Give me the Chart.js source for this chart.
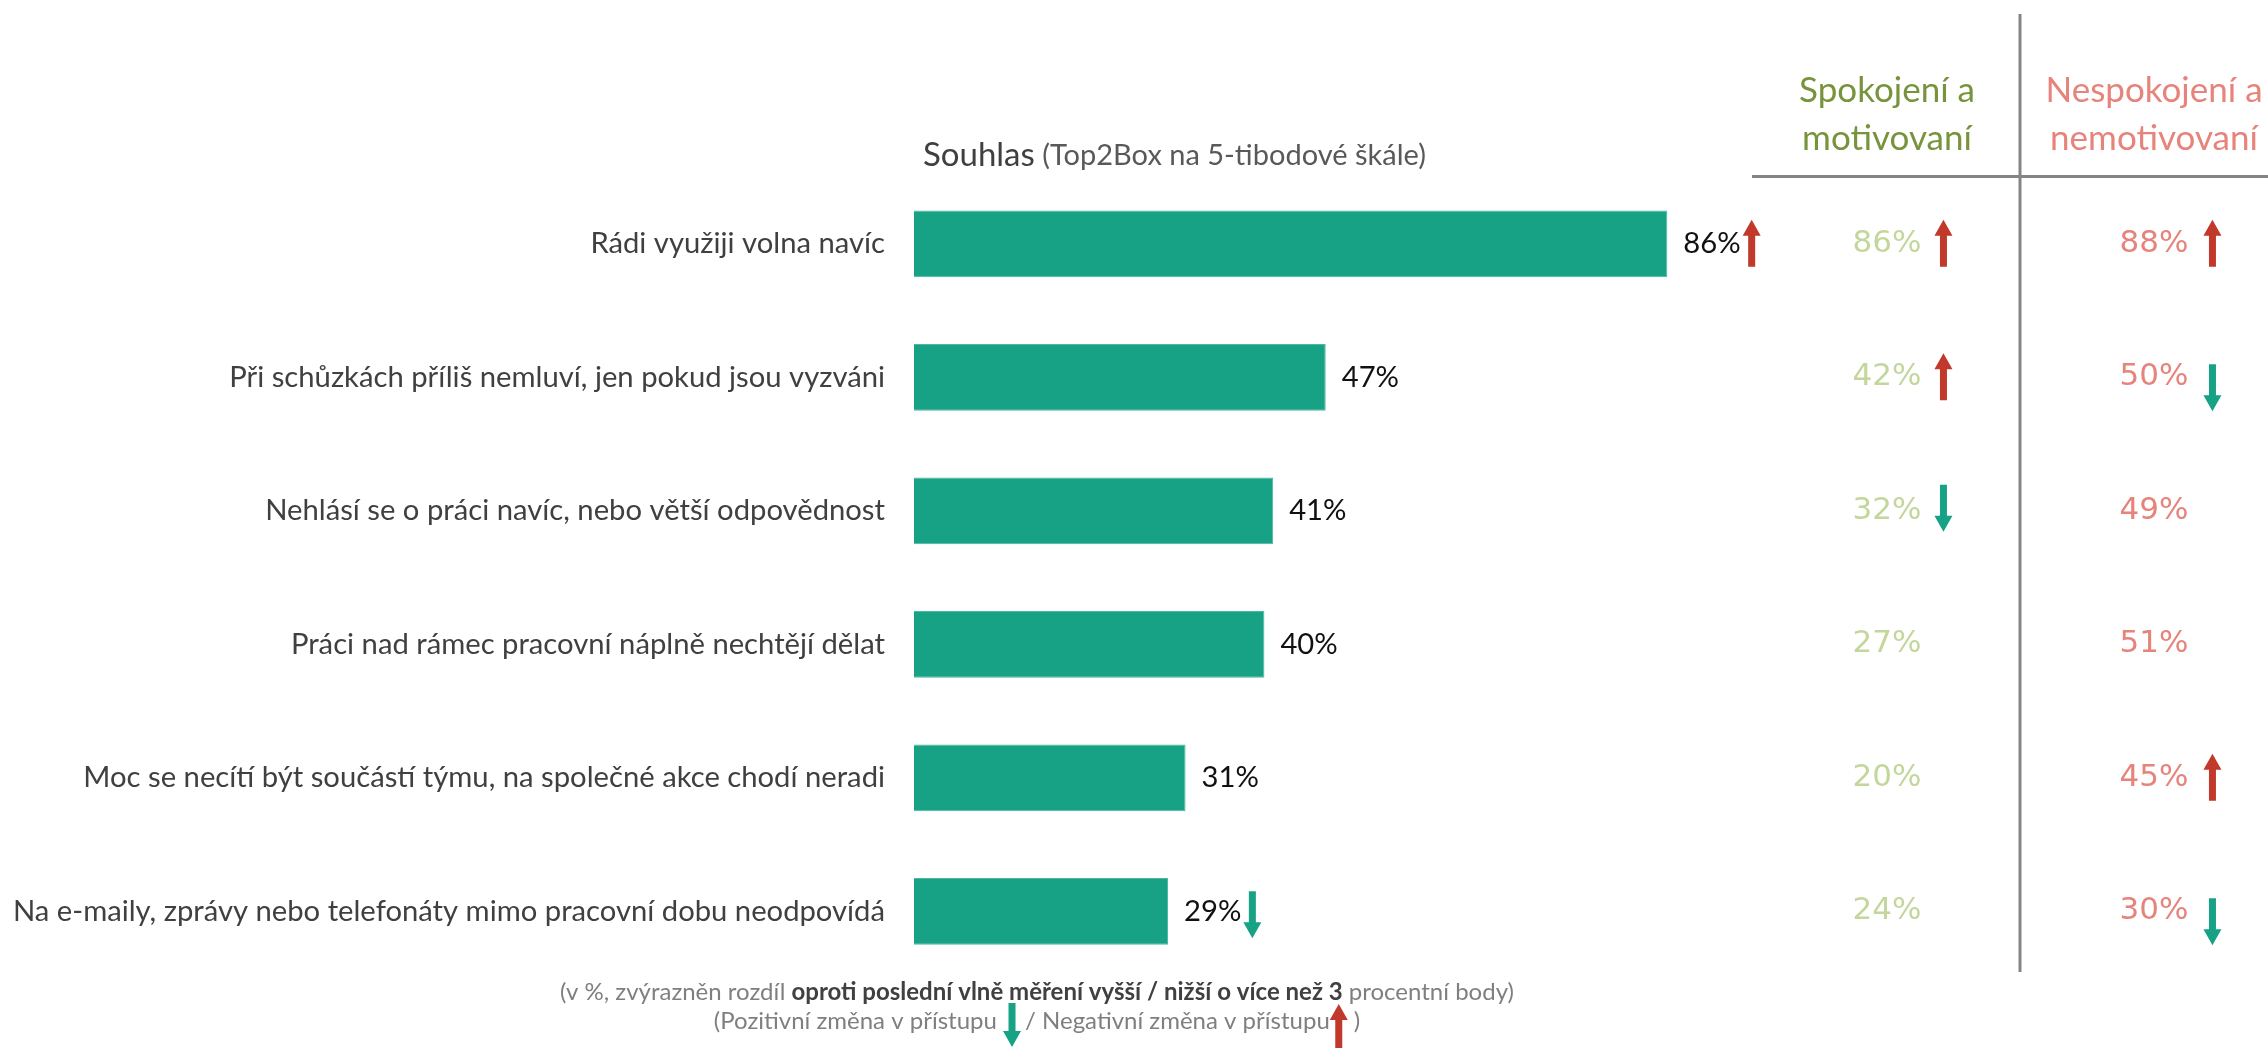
<!DOCTYPE html>
<html><head><meta charset="utf-8">
<script src="https://cdn.jsdelivr.net/npm/chart.js@4.4.1/dist/chart.umd.min.js"></script>
<style>html,body{margin:0;padding:0;background:#fff;overflow:hidden}canvas{display:block}</style>
</head><body>
<canvas id="c" width="2268" height="1048"></canvas>
<script>
// ---- data ----
const categories = [
  "Rádi využiji volna navíc",
  "Při schůzkách příliš nemluví, jen pokud jsou vyzváni",
  "Nehlásí se o práci navíc, nebo větší odpovědnost",
  "Práci nad rámec pracovní náplně nechtějí dělat",
  "Moc se necítí být součástí týmu, na společné akce chodí neradi",
  "Na e-maily, zprávy nebo telefonáty mimo pracovní dobu neodpovídá"
];
const totalValues = [86, 47, 41, 40, 31, 29];
const totalChange = ["up", null, null, null, null, "down"];
const satisfiedValues = [86, 42, 32, 27, 20, 24];
const satisfiedChange = ["up", "up", "down", null, null, null];
const dissatisfiedValues = [88, 50, 49, 51, 45, 30];
const dissatisfiedChange = ["up", "down", null, null, "up", "down"];
const axisMin = 0;
const axisMax = 100;
const chartTitle = "Souhlas";
const chartSubtitle = " (Top2Box na 5-tibodové škále)";
const satisfiedHeader = ["Spokojení a", "motivovaní"];
const dissatisfiedHeader = ["Nespokojení a", "nemotivovaní"];
const footerLine1 = [
  ["(v %, zvýrazněn rozdíl ", false],
  ["oproti poslední vlně měření vyšší / nižší o více než 3", true],
  [" procentní body)", false]
];
const footerLine2 = ["(Pozitivní změna v přístupu ", "/ Negativní změna v přístupu", ")"];

// ---- styles ----
const TEAL = "#17A185";
const RED = "#C0392B";
const GREEN_H = "#77933C";
const GREEN_V = "#C3D69B";
const SALMON = "#E6837B";
const GRAY_LINE = "#858585";
const FONT = "Lato, 'Open Sans', sans-serif";
const NUMFONT = "'DejaVu Sans', Verdana, sans-serif";

function drawArrow(ctx, cx, top, bottom, dir, color) {
  const shaft = 7, head = 18, headLen = 16;
  ctx.save();
  ctx.fillStyle = color;
  ctx.beginPath();
  if (dir === "up") {
    ctx.moveTo(cx, top);
    ctx.lineTo(cx + head / 2, top + headLen);
    ctx.lineTo(cx + shaft / 2, top + headLen);
    ctx.lineTo(cx + shaft / 2, bottom);
    ctx.lineTo(cx - shaft / 2, bottom);
    ctx.lineTo(cx - shaft / 2, top + headLen);
    ctx.lineTo(cx - head / 2, top + headLen);
  } else {
    ctx.moveTo(cx, bottom);
    ctx.lineTo(cx + head / 2, bottom - headLen);
    ctx.lineTo(cx + shaft / 2, bottom - headLen);
    ctx.lineTo(cx + shaft / 2, top);
    ctx.lineTo(cx - shaft / 2, top);
    ctx.lineTo(cx - shaft / 2, bottom - headLen);
    ctx.lineTo(cx - head / 2, bottom - headLen);
  }
  ctx.closePath();
  ctx.fill();
  ctx.restore();
}
function arrowFor(ctx, dir, cx, cy, downOff) {
  if (!dir) return;
  if (dir === "up") drawArrow(ctx, cx, cy - 24, cy + 23, "up", RED);
  else drawArrow(ctx, cx, cy + downOff, cy + downOff + 47, "down", TEAL);
}

const annotations = {
  id: "annotations",
  afterDatasetsDraw(chart) {
    const ctx = chart.ctx;
    const x = chart.scales.x, y = chart.scales.y;
    ctx.save();
    ctx.textBaseline = "middle";

    // category labels (fit longest label to the available width)
    ctx.font = "28px " + FONT;
    let longest = 0;
    categories.forEach(c => longest = Math.max(longest, ctx.measureText(c).width));
    const labelSize = Math.min(30, 28 * 872 / longest);
    ctx.font = labelSize.toFixed(2) + "px " + FONT;
    ctx.fillStyle = "#404040";
    ctx.textAlign = "right";
    const labelRight = x.left - 29;
    categories.forEach((c, i) => ctx.fillText(c, labelRight, y.getPixelForValue(i)));

    // bar value labels
    ctx.textAlign = "left";
    ctx.font = labelSize.toFixed(2) + "px " + FONT;
    ctx.fillStyle = "#111";
    totalValues.forEach((v, i) => {
      const px = x.getPixelForValue(v) + 16;
      const cy = y.getPixelForValue(i);
      const t = v + "%";
      ctx.fillText(t, px, cy);
      const w = ctx.measureText(t).width;
      arrowFor(ctx, totalChange[i], px + w + 11, cy, -20);
    });

    // title
    ctx.font = "33px " + FONT;
    ctx.fillStyle = "#404040";
    ctx.fillText(chartTitle, 923, 155);
    const tw = ctx.measureText(chartTitle).width;
    ctx.font = "29px " + FONT;
    ctx.fillStyle = "#595959";
    ctx.fillText(chartSubtitle, 923 + tw, 156);

    // side columns
    const col1 = 1887, col2 = 2154;
    ctx.textAlign = "center";
    ctx.font = "35px " + FONT;
    ctx.fillStyle = GREEN_H;
    ctx.fillText(satisfiedHeader[0], col1, 91);
    ctx.fillText(satisfiedHeader[1], col1, 139);
    ctx.fillStyle = SALMON;
    ctx.fillText(dissatisfiedHeader[0], col2, 91);
    ctx.fillText(dissatisfiedHeader[1], col2, 139);

    ctx.font = "31px " + NUMFONT;
    satisfiedValues.forEach((v, i) => {
      const cy = y.getPixelForValue(i);
      const t = v + "%";
      ctx.fillStyle = GREEN_V;
      ctx.fillText(t, col1, cy);
      const w = ctx.measureText(t).width;
      arrowFor(ctx, satisfiedChange[i], col1 + w / 2 + 22, cy, -26);
    });
    dissatisfiedValues.forEach((v, i) => {
      const cy = y.getPixelForValue(i);
      const t = v + "%";
      ctx.fillStyle = SALMON;
      ctx.fillText(t, col2, cy);
      const w = ctx.measureText(t).width;
      arrowFor(ctx, dissatisfiedChange[i], col2 + w / 2 + 24, cy, -13);
    });

    // grid lines of the side table
    ctx.strokeStyle = GRAY_LINE;
    ctx.lineWidth = 3;
    ctx.beginPath();
    ctx.moveTo(1752, 176.5); ctx.lineTo(2268, 176.5);
    ctx.moveTo(2020, 14); ctx.lineTo(2020, 972);
    ctx.stroke();

    // footer
    const fcx = 1037;
    ctx.textAlign = "left";
    const normal = "24px " + FONT, bold = "bold 24px " + FONT;
    let total = 0;
    footerLine1.forEach(([t, b]) => { ctx.font = b ? bold : normal; total += ctx.measureText(t).width; });
    let fx = fcx - total / 2;
    footerLine1.forEach(([t, b]) => {
      ctx.font = b ? bold : normal;
      ctx.fillStyle = b ? "#404040" : "#7F7F7F";
      ctx.fillText(t, fx, 992);
      fx += ctx.measureText(t).width;
    });
    ctx.font = normal;
    ctx.fillStyle = "#7F7F7F";
    const w0 = ctx.measureText(footerLine2[0]).width;
    const w1 = ctx.measureText(footerLine2[1]).width;
    const w2 = ctx.measureText(footerLine2[2]).width;
    const tot2 = w0 + 22 + w1 + 24 + w2;
    fx = fcx - tot2 / 2;
    ctx.fillText(footerLine2[0], fx, 1021);
    drawArrow(ctx, fx + w0 + 9, 1003, 1047, "down", TEAL);
    fx += w0 + 22;
    ctx.fillText(footerLine2[1], fx, 1021);
    drawArrow(ctx, fx + w1 + 9, 1004, 1062, "up", RED);
    fx += w1 + 24;
    ctx.fillText(footerLine2[2], fx, 1021);

    ctx.restore();
  }
};

new Chart(document.getElementById("c"), {
  type: "bar",
  data: {
    labels: categories,
    datasets: [{
      data: totalValues,
      backgroundColor: TEAL,
      borderColor: "#4DB8A2",
      borderWidth: 1,
      barPercentage: 0.5,
      categoryPercentage: 1.0
    }]
  },
  options: {
    indexAxis: "y",
    responsive: false,
    devicePixelRatio: 1,
    animation: false,
    layout: { padding: { left: 914, right: 2268 - 1790, top: 177, bottom: 70 } },
    scales: {
      x: { min: axisMin, max: axisMax, display: false },
      y: { display: false }
    },
    plugins: { legend: { display: false }, tooltip: { enabled: false } }
  },
  plugins: [annotations]
});
</script>
</body></html>
